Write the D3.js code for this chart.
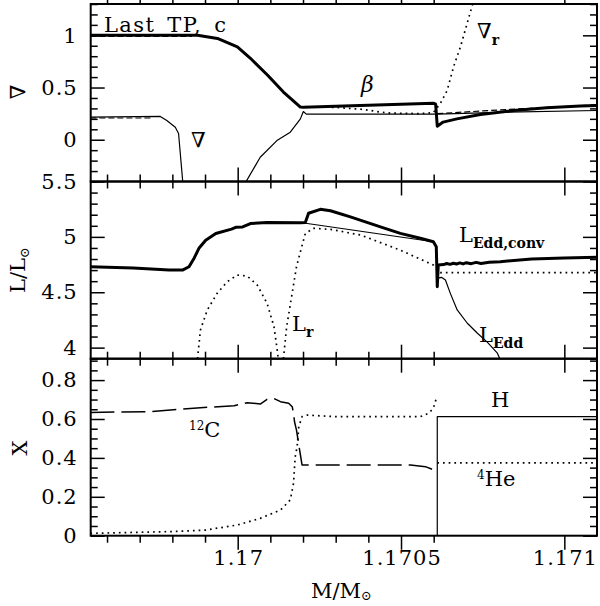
<!DOCTYPE html>
<html><head><meta charset="utf-8">
<script src="https://cdn.jsdelivr.net/npm/d3@7"></script>
<style>body{margin:0;background:#fff}svg{display:block}text{font-family:"DejaVu Serif",serif;fill:#000}</style>
</head><body>
<svg id="c" width="600" height="606"></svg>
<script>
// ---------- data (M/Msun, value) ----------
const xDomain = [1.16955, 1.1711];
const xMajor = [1.17, 1.1705, 1.171];
const xMinor = d3.range(11).map(i => +(1.1696 + i * 0.0001).toFixed(4));

const topDomain = [-0.4, 1.3];
const topMajor = [0, 0.5, 1];
const topMinor = d3.range(18).map(i => +(-0.4 + i * 0.1).toFixed(1));
const midDomain = [3.9, 5.5];
const midMajor = [4, 4.5, 5, 5.5];
const midMinor = d3.range(17).map(i => +(3.9 + i * 0.1).toFixed(1));
const botDomain = [0, 0.91];
const botMajor = [0, 0.2, 0.4, 0.6, 0.8];
const botMinor = d3.range(19).map(i => +(i * 0.05).toFixed(2));

// top panel
const beta = [[1.169549,1.0],[1.169700,1.0],[1.169850,1.0],[1.169877,1.0],[1.169938,0.97],[1.169999,0.89],[1.170039,0.78],[1.170091,0.62],[1.170140,0.457],[1.170192,0.313],[1.170201,0.31],[1.170300,0.32],[1.170400,0.33],[1.170500,0.34],[1.170599,0.35],[1.170606,0.34],[1.170611,0.13],[1.170629,0.169],[1.170671,0.20],[1.170743,0.242],[1.170844,0.28],[1.170946,0.307],[1.171049,0.322],[1.1711,0.329]];
const betaDashL = [[1.169549,0.99],[1.169860,0.99]];
const betaDashR = [[1.170611,0.25],[1.170800,0.285],[1.1711,0.335]];
const nablaL = [[1.169549,0.217],[1.169763,0.223],[1.169783,0.185],[1.169809,0.12],[1.169819,0.06],[1.169832,-0.41]];
const nablaDash = [[1.169549,0.208],[1.169740,0.208]];
const nablaR = [[1.170024,-0.41],[1.170069,-0.168],[1.170120,-0.008],[1.170161,0.072],[1.170192,0.20],[1.170201,0.27],[1.170210,0.245],[1.170400,0.245],[1.170611,0.245],[1.170800,0.262],[1.1711,0.28]];
const nablaRad = [[1.170201,0.315],[1.170300,0.31],[1.170385,0.29],[1.170437,0.265],[1.170468,0.255],[1.170560,0.25],[1.170599,0.26],[1.170611,0.31],[1.170620,0.345],[1.170641,0.47],[1.170661,0.70],[1.170682,0.89],[1.170702,1.11],[1.170723,1.34]];

// middle panel
const lEddConv = [[1.169549,4.73],[1.169680,4.72],[1.169790,4.70],[1.169831,4.70],[1.169851,4.73],[1.169867,4.81],[1.169882,4.90],[1.169902,4.97],[1.169933,5.03],[1.169981,5.07],[1.169994,5.086],[1.170015,5.09],[1.170039,5.12],[1.170090,5.13],[1.170192,5.128],[1.170207,5.13],[1.170217,5.213],[1.170253,5.249],[1.170284,5.236],[1.170345,5.18],[1.170437,5.09],[1.170498,5.032],[1.170559,4.987],[1.170599,4.956],[1.170608,4.91],[1.170611,4.55],[1.170614,4.746],[1.170630,4.75],[1.170640,4.76],[1.170650,4.752],[1.170660,4.762],[1.170670,4.755],[1.170680,4.765],[1.170690,4.756],[1.170700,4.767],[1.170715,4.758],[1.170730,4.77],[1.170745,4.76],[1.170770,4.77],[1.170804,4.776],[1.170900,4.80],[1.171000,4.81],[1.1711,4.816]];
const lEddA = [[1.170192,5.13],[1.170599,4.956]];
const lEddB = [[1.170612,4.60],[1.170616,4.63],[1.170624,4.635],[1.170636,4.61],[1.170651,4.49],[1.170672,4.34],[1.170703,4.22],[1.170734,4.13],[1.170764,4.05],[1.170795,3.95],[1.170804,3.89]];
const lRadA = [[1.169877,3.9],[1.169886,4.16],[1.169907,4.34],[1.169937,4.49],[1.169968,4.595],[1.169998,4.655],[1.170029,4.647],[1.170060,4.565],[1.170090,4.40],[1.170111,4.19],[1.170121,3.98],[1.170124,3.9]];
const lRadB = [[1.170140,3.9],[1.170150,4.19],[1.170165,4.46],[1.170180,4.73],[1.170192,4.866],[1.170207,5.03],[1.170232,5.077],[1.170284,5.068],[1.170376,5.017],[1.170498,4.88],[1.170599,4.746],[1.170611,4.70],[1.170620,4.677],[1.1711,4.677]];

// bottom panel
const c12 = [[1.169549,0.634],[1.169733,0.638],[1.169794,0.646],[1.169886,0.658],[1.169989,0.668],[1.170029,0.684],[1.170069,0.677],[1.170090,0.701],[1.170110,0.706],[1.170131,0.689],[1.170156,0.681],[1.170167,0.663],[1.170171,0.629],[1.170174,0.586],[1.170180,0.543],[1.170192,0.415],[1.170197,0.364],[1.170201,0.364],[1.170529,0.363],[1.170575,0.355],[1.170600,0.338],[1.170609,0.321]];
const hLeft = [[1.169549,0.012],[1.169794,0.021],[1.169901,0.029],[1.169999,0.055],[1.170069,0.089],[1.170131,0.132],[1.170161,0.184],[1.170171,0.27],[1.170176,0.406],[1.170182,0.458],[1.170187,0.56],[1.170197,0.612],[1.170213,0.62],[1.170300,0.612],[1.170559,0.612],[1.170584,0.629],[1.170599,0.655],[1.170608,0.706]];
const hRight = [[1.170611,0],[1.170611,0.612],[1.1711,0.612]];
const he4Right = [[1.170611,0.374],[1.1711,0.374]];

// ---------- drawing ----------
const svg = d3.select("#c");
const XL = 90.7, XR = 597;
const FS = 21;
const x = d3.scaleLinear().domain(xDomain).range([XL, XR]);
const P = [
  {t: 4, b: 181.5, dom: topDomain, maj: topMajor, min: topMinor},
  {t: 181.5, b: 358.7, dom: midDomain, maj: midMajor, min: midMinor},
  {t: 358.7, b: 535.7, dom: botDomain, maj: botMajor, min: botMinor}
];
P.forEach(p => { p.y = d3.scaleLinear().domain(p.dom).range([p.b, p.t]); });

const MAJ = 14, MIN = 7;
const fmt = d => String(+(+d).toFixed(4));
const mk = (side, p) => side === "l" ? d3.axisLeft(p.y) : side === "r" ? d3.axisRight(p.y) : side === "t" ? d3.axisBottom(x) : d3.axisTop(x);

P.forEach((p, i) => {
  const clipId = "clip" + i;
  svg.append("clipPath").attr("id", clipId).append("rect")
    .attr("x", XL).attr("y", p.t).attr("width", XR - XL).attr("height", p.b - p.t);
  p.clip = "url(#" + clipId + ")";
  [["l", XL], ["r", XR], ["t", p.t], ["b", p.b]].forEach(([side, pos]) => {
    const isY = side === "l" || side === "r";
    const maj = isY ? p.maj : xMajor;
    const min = isY ? p.min : xMinor;
    const tr = isY ? `translate(${pos},0)` : `translate(0,${pos})`;
    const gMin = svg.append("g").attr("transform", tr)
      .call(mk(side, p).tickValues(min.filter(v => !maj.some(m => Math.abs(m - v) < 1e-9))).tickSize(-MIN).tickFormat(""));
    const showLab = side === "l";
    const gMaj = svg.append("g").attr("transform", tr)
      .call(mk(side, p).tickValues(maj).tickSize(-MAJ).tickPadding(13).tickFormat(showLab ? fmt : ""));
    [gMin, gMaj].forEach(g => {
      g.select(".domain").remove();
      g.selectAll(".tick line").attr("stroke", "#000").attr("stroke-width", 1.5);
      g.selectAll("text").attr("font-size", FS).attr("font-family", "DejaVu Serif").attr("fill", "#000").attr("letter-spacing", 1);
    });
  });
  svg.append("rect").attr("x", XL).attr("y", p.t).attr("width", XR - XL).attr("height", p.b - p.t)
    .attr("fill", "none").attr("stroke", "#000").attr("stroke-width", 2);
});

// x tick labels below the bottom panel
svg.append("g").selectAll("text").data(xMajor).join("text")
  .attr("x", d => x(d) + 1).attr("y", 565).attr("text-anchor", "middle")
  .attr("font-size", FS).attr("letter-spacing", 1).text(fmt);

function draw(pi, data, style) {
  const p = P[pi];
  const line = d3.line().x(d => x(d[0])).y(d => p.y(d[1]));
  svg.append("path").datum(data).attr("d", line).attr("clip-path", p.clip)
    .attr("fill", "none").attr("stroke", "#000")
    .attr("stroke-width", style.w).attr("stroke-dasharray", style.dash || null)
    .attr("stroke-linejoin", "round");
}
const THICK = {w: 3}, THIN = {w: 1.2}, DOT = {w: 1.7, dash: "1.7,4"}, DASH = {w: 1.2, dash: "6,3"}, LDASH = {w: 1.5, dash: "24,7"};

draw(0, nablaL, THIN); draw(0, nablaDash, DASH);
draw(0, nablaR, THIN);
draw(0, nablaRad, DOT);
draw(0, betaDashR, DASH);
draw(0, beta, THICK); draw(0, betaDashL, DASH);

draw(1, lRadA, DOT); draw(1, lRadB, DOT);
draw(1, lEddA, THIN); draw(1, lEddB, THIN);
draw(1, lEddConv, THICK);

draw(2, c12, LDASH);
draw(2, hLeft, DOT);
draw(2, hRight, THIN);
draw(2, he4Right, DOT);

// ---------- text labels ----------
function txt(xp, yp, parts, size, extra) {
  const t = svg.append("text").attr("x", xp).attr("y", yp).attr("font-size", size);
  if (extra) extra(t);
  parts.forEach(pt => {
    const s = t.append("tspan").text(pt.s);
    if (pt.dy) s.attr("dy", pt.dy);
    if (pt.fs) s.attr("font-size", pt.fs);
    if (pt.fw) s.attr("font-weight", pt.fw);
    if (pt.fi) s.attr("font-style", pt.fi);
  });
  return t;
}
txt(104, 32, [{s: "Last TP, c"}], FS, t => t.attr("letter-spacing", 1.4).attr("word-spacing", 4));
txt(361, 92, [{s: "β", fi: "italic"}], 22);
txt(477, 38, [{s: "∇"}, {s: "r", dy: 7, fs: 14, fw: "bold"}], FS);
txt(191, 147, [{s: "∇"}], FS);
txt(459, 242, [{s: "L"}, {s: "Edd,conv", dy: 6, fs: 14, fw: "bold"}], FS);
txt(292, 331, [{s: "L"}, {s: "r", dy: 6, fs: 14, fw: "bold"}], FS);
txt(479, 342, [{s: "L"}, {s: "Edd", dy: 6, fs: 14, fw: "bold"}], FS);
txt(189, 437, [{s: "12", dy: -7, fs: 12}, {s: "C", dy: 7}], FS);
txt(491, 407, [{s: "H"}], FS);
txt(477, 486, [{s: "4", dy: -7, fs: 12}, {s: "He", dy: 7}], FS);

// axis titles
txt(0, 0, [{s: "∇"}], FS, t => t.attr("text-anchor", "middle").attr("transform", "translate(25,92) rotate(-90)"));
txt(0, 0, [{s: "L/L"}, {s: "⊙", dy: 4, fs: 13}], FS, t => t.attr("text-anchor", "middle").attr("transform", "translate(25,270) rotate(-90)"));
txt(0, 0, [{s: "X"}], FS, t => t.attr("text-anchor", "middle").attr("transform", "translate(27,448) rotate(-90)"));
txt(311, 598, [{s: "M/M"}, {s: "⊙", dy: 2, fs: 13}], FS);
</script>
</body></html>
